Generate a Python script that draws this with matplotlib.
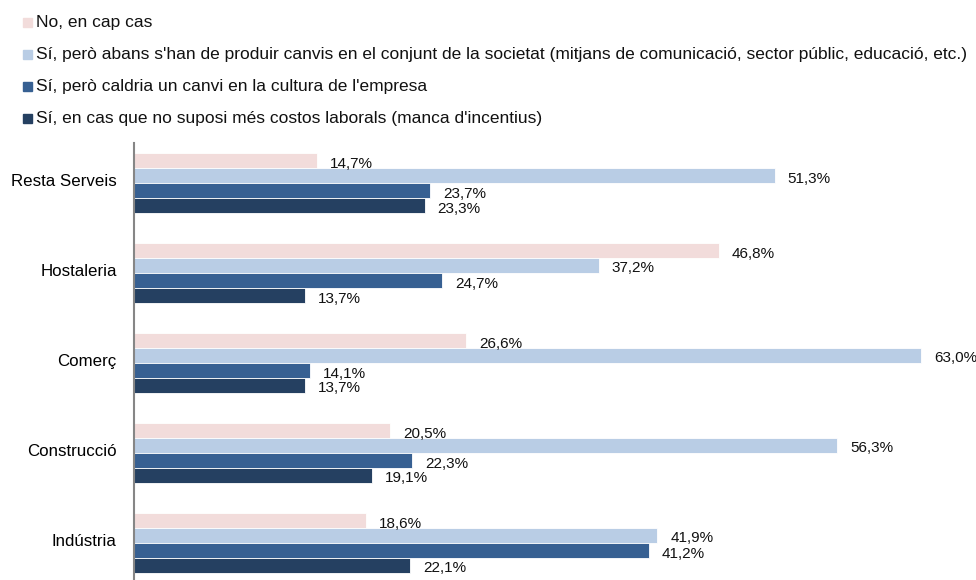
import numpy as np
import matplotlib.pyplot as plt

plt.rcParams['font.family'] = ['Liberation Sans', 'DejaVu Sans']

# Categories (top to bottom as in the chart)
categories = ["Resta Serveis", "Hostaleria", "Comerç", "Construcció", "Indústria"]

series_names = [
    "No, en cap cas",
    "Sí, però abans s'han de produir canvis en el conjunt de la societat (mitjans de comunicació, sector públic, educació, etc.)",
    "Sí, però caldria un canvi en la cultura de l'empresa",
    "Sí, en cas que no suposi més costos laborals (manca d'incentius)",
]

no_cap_cas = [14.7, 46.8, 26.6, 20.5, 18.6]
canvis_societat = [51.3, 37.2, 63.0, 56.3, 41.9]
cultura_empresa = [23.7, 24.7, 14.1, 22.3, 41.2]
costos_laborals = [23.3, 13.7, 13.7, 19.1, 22.1]

colors = ["#F2DCDB", "#B9CDE5", "#376092", "#254061"]

series = [no_cap_cas, canvis_societat, cultura_empresa, costos_laborals]

W, H = 976, 580
fig = plt.figure(figsize=(W / 100, H / 100), dpi=100)

# axes: x from 133.5 px to 970 px, y from 143 px down to the bottom edge
left_px, right_px, top_px = 133.5, 970, 143
ax = fig.add_axes([left_px / W, 0, (right_px - left_px) / W, (H - top_px) / H])

px_per_unit = 12.5
ax.set_xlim(0, (right_px - left_px) / px_per_unit)
ax.set_ylim(-37 / 90, 4 + 40 / 90)

n = len(categories)
ypos = np.arange(n)[::-1]  # first category on top
bar_h = 15 / 90

for i, (vals, col) in enumerate(zip(series, colors)):
    yc = ypos + (1.5 - i) * bar_h
    ax.barh(yc, vals, height=bar_h, color=col, edgecolor="white", linewidth=0.6)
    for y, v in zip(yc, vals):
        ax.text(v + 13 / px_per_unit, y - 3 / 90, f"{v:.1f}%".replace(".", ","),
                va="center", ha="left", fontsize=11, color="#111111")

ax.set_yticks(ypos + 3 / 90)
ax.set_yticklabels(categories, fontsize=12.2)
ax.tick_params(axis="y", length=0, pad=12)
ax.set_xticks([])
for s in ["top", "right", "bottom"]:
    ax.spines[s].set_visible(False)
ax.spines["left"].set_color("#868686")
ax.spines["left"].set_linewidth(1.5)

# legend drawn as squares + text
leg_y = [22, 54, 86, 118]
for name, col, y in zip(series_names, colors, leg_y):
    fig.patches.append(plt.Rectangle((23 / W, 1 - (y + 4.5) / H), 9 / W, 9 / H,
                                     transform=fig.transFigure, color=col))
    fig.text(36 / W, 1 - y / H, name, fontsize=12.5, va="center", ha="left", color="#111111")

fig.savefig("out.png", dpi=100)
